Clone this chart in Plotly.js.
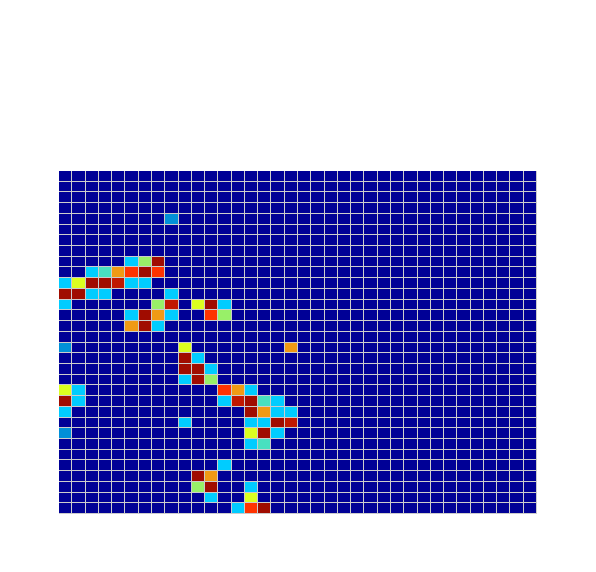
<!DOCTYPE html>
<html>
<head>
<meta charset="utf-8">
<script src="https://cdn.plot.ly/plotly-3.0.1.min.js"></script>
<style>html,body{margin:0;padding:0;background:#fff;}#chart{width:596px;height:572px;}</style>
</head>
<body>
<div id="chart"></div>
<script>
// Column and row indices of the grid
var columns = [0,1,2,3,4,5,6,7,8,9,10,11,12,13,14,15,16,17,18,19,20,21,22,23,24,25,26,27,28,29,30,31,32,33,34,35];
var rows = [0,1,2,3,4,5,6,7,8,9,10,11,12,13,14,15,16,17,18,19,20,21,22,23,24,25,26,27,28,29,30,31];

// Cell levels (0 = background), row by row from the top
var z = [
[0,0,0,0,0,0,0,0,0,0,0,0,0,0,0,0,0,0,0,0,0,0,0,0,0,0,0,0,0,0,0,0,0,0,0,0],
[0,0,0,0,0,0,0,0,0,0,0,0,0,0,0,0,0,0,0,0,0,0,0,0,0,0,0,0,0,0,0,0,0,0,0,0],
[0,0,0,0,0,0,0,0,0,0,0,0,0,0,0,0,0,0,0,0,0,0,0,0,0,0,0,0,0,0,0,0,0,0,0,0],
[0,0,0,0,0,0,0,0,0,0,0,0,0,0,0,0,0,0,0,0,0,0,0,0,0,0,0,0,0,0,0,0,0,0,0,0],
[0,0,0,0,0,0,0,0,1,0,0,0,0,0,0,0,0,0,0,0,0,0,0,0,0,0,0,0,0,0,0,0,0,0,0,0],
[0,0,0,0,0,0,0,0,0,0,0,0,0,0,0,0,0,0,0,0,0,0,0,0,0,0,0,0,0,0,0,0,0,0,0,0],
[0,0,0,0,0,0,0,0,0,0,0,0,0,0,0,0,0,0,0,0,0,0,0,0,0,0,0,0,0,0,0,0,0,0,0,0],
[0,0,0,0,0,0,0,0,0,0,0,0,0,0,0,0,0,0,0,0,0,0,0,0,0,0,0,0,0,0,0,0,0,0,0,0],
[0,0,0,0,0,2,4,9,0,0,0,0,0,0,0,0,0,0,0,0,0,0,0,0,0,0,0,0,0,0,0,0,0,0,0,0],
[0,0,2,3,6,7,9,7,0,0,0,0,0,0,0,0,0,0,0,0,0,0,0,0,0,0,0,0,0,0,0,0,0,0,0,0],
[2,5,9,9,8,2,2,0,0,0,0,0,0,0,0,0,0,0,0,0,0,0,0,0,0,0,0,0,0,0,0,0,0,0,0,0],
[9,9,2,2,0,0,0,0,2,0,0,0,0,0,0,0,0,0,0,0,0,0,0,0,0,0,0,0,0,0,0,0,0,0,0,0],
[2,0,0,0,0,0,0,4,8,0,5,9,2,0,0,0,0,0,0,0,0,0,0,0,0,0,0,0,0,0,0,0,0,0,0,0],
[0,0,0,0,0,2,9,6,2,0,0,7,4,0,0,0,0,0,0,0,0,0,0,0,0,0,0,0,0,0,0,0,0,0,0,0],
[0,0,0,0,0,6,9,2,0,0,0,0,0,0,0,0,0,0,0,0,0,0,0,0,0,0,0,0,0,0,0,0,0,0,0,0],
[0,0,0,0,0,0,0,0,0,0,0,0,0,0,0,0,0,0,0,0,0,0,0,0,0,0,0,0,0,0,0,0,0,0,0,0],
[1,0,0,0,0,0,0,0,0,5,0,0,0,0,0,0,0,6,0,0,0,0,0,0,0,0,0,0,0,0,0,0,0,0,0,0],
[0,0,0,0,0,0,0,0,0,9,2,0,0,0,0,0,0,0,0,0,0,0,0,0,0,0,0,0,0,0,0,0,0,0,0,0],
[0,0,0,0,0,0,0,0,0,9,9,2,0,0,0,0,0,0,0,0,0,0,0,0,0,0,0,0,0,0,0,0,0,0,0,0],
[0,0,0,0,0,0,0,0,0,2,9,4,0,0,0,0,0,0,0,0,0,0,0,0,0,0,0,0,0,0,0,0,0,0,0,0],
[5,2,0,0,0,0,0,0,0,0,0,0,7,6,2,0,0,0,0,0,0,0,0,0,0,0,0,0,0,0,0,0,0,0,0,0],
[9,2,0,0,0,0,0,0,0,0,0,0,2,8,9,3,2,0,0,0,0,0,0,0,0,0,0,0,0,0,0,0,0,0,0,0],
[2,0,0,0,0,0,0,0,0,0,0,0,0,0,9,6,2,2,0,0,0,0,0,0,0,0,0,0,0,0,0,0,0,0,0,0],
[0,0,0,0,0,0,0,0,0,2,0,0,0,0,2,2,9,8,0,0,0,0,0,0,0,0,0,0,0,0,0,0,0,0,0,0],
[1,0,0,0,0,0,0,0,0,0,0,0,0,0,5,9,2,0,0,0,0,0,0,0,0,0,0,0,0,0,0,0,0,0,0,0],
[0,0,0,0,0,0,0,0,0,0,0,0,0,0,2,3,0,0,0,0,0,0,0,0,0,0,0,0,0,0,0,0,0,0,0,0],
[0,0,0,0,0,0,0,0,0,0,0,0,0,0,0,0,0,0,0,0,0,0,0,0,0,0,0,0,0,0,0,0,0,0,0,0],
[0,0,0,0,0,0,0,0,0,0,0,0,2,0,0,0,0,0,0,0,0,0,0,0,0,0,0,0,0,0,0,0,0,0,0,0],
[0,0,0,0,0,0,0,0,0,0,9,6,0,0,0,0,0,0,0,0,0,0,0,0,0,0,0,0,0,0,0,0,0,0,0,0],
[0,0,0,0,0,0,0,0,0,0,4,9,0,0,2,0,0,0,0,0,0,0,0,0,0,0,0,0,0,0,0,0,0,0,0,0],
[0,0,0,0,0,0,0,0,0,0,0,2,0,0,5,0,0,0,0,0,0,0,0,0,0,0,0,0,0,0,0,0,0,0,0,0],
[0,0,0,0,0,0,0,0,0,0,0,0,0,2,7,9,0,0,0,0,0,0,0,0,0,0,0,0,0,0,0,0,0,0,0,0]
];

// Colours of the ten levels, from low to high
var levelColors = ['#000096','#0090d8','#00ccff','#48e0c0','#98f068','#dcff20','#f09a14','#ff3300','#c01800','#a00c00'];

var colorscale = levelColors.map(function(c, i){ return [i / (levelColors.length - 1), c]; });

var trace = {
  type: 'heatmap',
  x: columns,
  y: rows,
  z: z,
  zmin: 0,
  zmax: levelColors.length - 1,
  colorscale: colorscale,
  showscale: false,
  xgap: 1,
  ygap: 1,
  hoverinfo: 'skip'
};

var layout = {
  width: 596,
  height: 572,
  margin: {l: 59, r: 59, t: 171, b: 58, pad: 0},
  paper_bgcolor: '#ffffff',
  plot_bgcolor: '#cccccc',
  showlegend: false,
  xaxis: {showgrid: false, zeroline: false, showticklabels: false, ticks: '', showline: false, range: [-0.5, 35.5]},
  yaxis: {showgrid: false, zeroline: false, showticklabels: false, ticks: '', showline: false, range: [31.5, -0.5]}
};

Plotly.newPlot('chart', [trace], layout, {displayModeBar: false, staticPlot: true});
</script>
</body>
</html>
